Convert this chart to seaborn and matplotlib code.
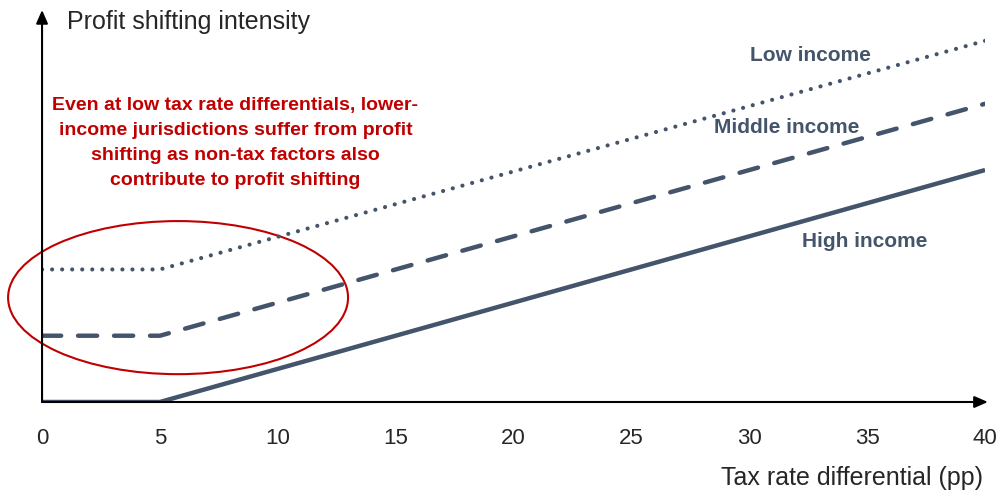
import numpy as np
import pandas as pd
import matplotlib.pyplot as plt
import seaborn as sns
from matplotlib.patches import Ellipse

# data
tax_diff = [0, 5, 40]
high_income = [0.0, 0.0, 7.0]
middle_income = [2.0, 2.0, 9.0]
low_income = [4.0, 4.0, 10.9]
x_ticks = [0, 5, 10, 15, 20, 25, 30, 35, 40]

sns.set_style("white")
plt.rcParams['font.family'] = ['Liberation Sans', 'DejaVu Sans']

line_col = '#44546A'
red = '#C00000'

fig = plt.figure(figsize=(10.01, 4.96), dpi=100)
ax = fig.add_axes([0.042, 94 / 496, (985 - 42) / 1001, 392 / 496])

sns.lineplot(x=tax_diff, y=high_income, ax=ax, color=line_col, linewidth=3.2,
             solid_capstyle='butt')
sns.lineplot(x=tax_diff, y=middle_income, ax=ax, color=line_col, linewidth=3.2,
             linestyle=(0, (4.3, 3.8)), dash_capstyle='round')
sns.lineplot(x=tax_diff, y=low_income, ax=ax, color=line_col, linewidth=3.0,
             linestyle=(0, (0.01, 2.4)), dash_capstyle='round')

ax.set_xlim(0, 40)
ax.set_ylim(0, 11.83)
ax.set_xticks(x_ticks)
ax.set_xticklabels([str(t) for t in x_ticks], fontsize=16)
ax.set_yticks([])
ax.tick_params(axis='x', length=0, pad=19)
for s in ax.spines.values():
    s.set_visible(False)

# axis arrows
arrow = dict(arrowstyle='-|>,head_length=0.8,head_width=0.35', color='black', lw=1.5,
             shrinkA=0, shrinkB=0)
ax.annotate('', xy=(1.003, 0), xytext=(0, 0), xycoords='axes fraction', arrowprops=arrow,
            annotation_clip=False)
ax.annotate('', xy=(0, 1.0), xytext=(0, 0), xycoords='axes fraction', arrowprops=arrow,
            annotation_clip=False)

# series labels
lab = dict(color=line_col, fontsize=15, fontweight='bold', ha='center', va='center')
ax.text(32.6, 10.46, 'Low income', **lab)
ax.text(31.6, 8.29, 'Middle income', **lab)
ax.text(34.9, 4.85, 'High income', **lab)

# highlight
ax.add_patch(Ellipse((5.77, 3.15), 14.42, 4.62, fill=False, edgecolor=red, lw=1.5,
                     clip_on=False))
ax.text(8.2, 7.82, 'Even at low tax rate differentials, lower-\n'
        'income jurisdictions suffer from profit\n'
        'shifting as non-tax factors also\n'
        'contribute to profit shifting',
        color=red, fontsize=14, fontweight='bold', ha='center', va='center',
        linespacing=1.6)

fig.text(67 / 1001, 1 - 22 / 496, 'Profit shifting intensity', fontsize=18,
         ha='left', va='center')
fig.text(983 / 1001, 1 - 478 / 496, 'Tax rate differential (pp)', fontsize=18,
         ha='right', va='center')

fig.savefig('out.png', dpi=100)
